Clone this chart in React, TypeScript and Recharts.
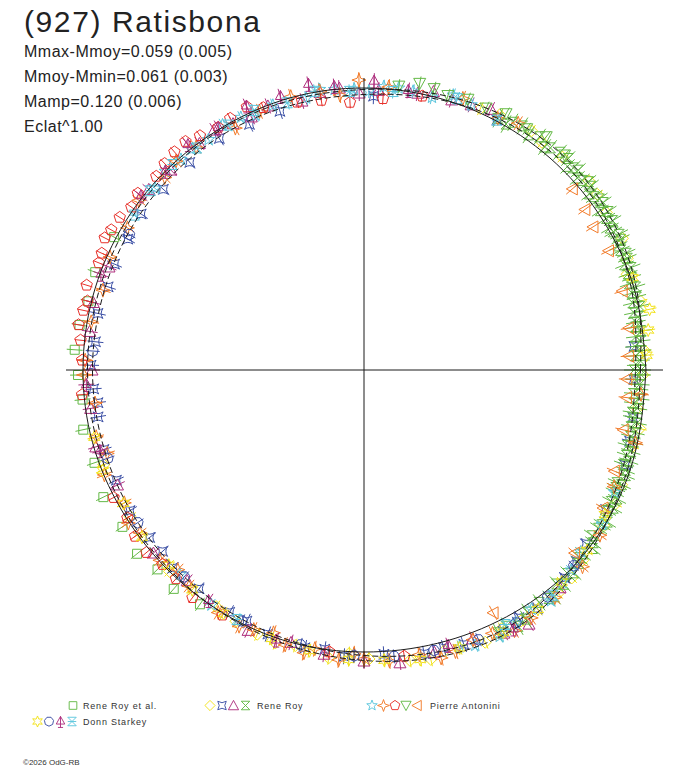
import React from 'react';
import { ScatterChart, Scatter, XAxis, YAxis } from 'recharts';

const W = 688;
const H = 768;

const GREEN = '#64b947';
const YELLOW = '#f2e21a';
const BLUE = '#3b4fa5';
const MAGENTA = '#ae2f7e';
const CYAN = '#5cc6dd';
const ORANGE = '#f27b2a';
const RED = '#e7312b';
const INK = '#1a1a1a';

// curves: radius (1 unit = 1 px) read every 15 deg of rotation phase
const curvePhase = [0, 15, 30, 45, 60, 75, 90, 105, 120, 135, 150, 165, 180, 195, 210, 225, 240, 255, 270, 285, 300, 315, 330, 345];
const meanRadius = [282, 282, 282, 282, 282, 282, 282, 282, 281, 281, 281, 281, 281, 281, 280, 280, 281, 282, 282, 283, 285, 287, 286, 283];
const fitOuter = [276.5, 283.5, 289.5, 292.5, 290.5, 285.5, 280.5, 279.5, 279.5, 278.5, 277.5, 276.5, 276.5, 276.5, 277.5, 278.5, 281.5, 285.5, 290.5, 296.5, 299.5, 293.5, 285.5, 279.5];
const fitInner = [271.5, 278.5, 284.5, 287.5, 285.5, 280.5, 275.5, 274.5, 274.5, 273.5, 272.5, 271.5, 271.5, 271.5, 272.5, 273.5, 276.5, 280.5, 285.5, 291.5, 294.5, 288.5, 280.5, 274.5];

// Rene Roy et al.
const royEtAlPhase = [152, 160, 166, 171, 176, 181, 186, 192, 199, 206, 213, 219, 224, 229, 235];
const royEtAlRadius = [283, 286, 284, 288, 290, 286, 283, 287, 285, 290, 288, 292, 287, 290, 286];

// Rene Roy
const royDiamondPhase = [8, 14, 20, 27, 33, 40, 47, 55, 62, 200, 212, 226, 238, 248, 256, 263, 271, 279, 286, 294, 302, 311, 319, 327, 336, 344, 352,
  359, 4, 23, 37, 52, 66, 243, 252, 267, 283, 298, 315, 332, 348];
const royDiamondRadius = [276, 285, 280, 290, 289, 294, 291, 292, 289, 277, 276, 280, 279, 285, 284, 290, 289, 294, 292, 298, 296, 296, 290, 286, 282, 279, 276,
  279, 281, 286, 292, 289, 286, 282, 287, 284, 297, 293, 294, 285, 282];
const royAstroidPhase = [122, 130, 138, 145, 151, 157, 162, 168, 174, 179, 184, 190, 197, 204, 211, 218, 226, 233, 241, 250, 258, 266, 274, 282, 290, 298, 306, 314, 322, 340, 350, 358, 5,
  62, 88, 108, 115, 187, 222, 245, 262, 286, 302, 318, 330, 345];
const royAstroidRadius = [273, 271, 270, 272, 270, 271, 269, 272, 270, 273, 271, 270, 272, 271, 273, 272, 275, 274, 277, 281, 284, 287, 285, 290, 292, 296, 295, 289, 282, 278, 273, 270, 271,
  283, 274, 272, 271, 268, 271, 277, 282, 289, 292, 286, 279, 275];
const royTrianglePhase = [64, 72, 79, 87, 95, 103, 110, 118, 126, 134, 158, 172, 188, 205, 221, 246, 262, 277, 292, 303, 312,
  68, 76, 91, 99, 114, 122, 140, 166, 180, 196, 230, 255, 270, 284, 298];
const royTriangleRadius = [290, 284, 282, 280, 283, 276, 281, 279, 280, 278, 275, 277, 276, 272, 279, 285, 287, 295, 290, 303, 293,
  286, 287, 277, 281, 277, 283, 281, 279, 272, 279, 275, 282, 291, 291, 298];
const royHourglassPhase = [-63, -59, -56, -51, -48, -47, -42, -40, -37, -36, -33, -30, -29, -26, -24, -24, -21, -18, -17, -14, -13, -10, -8, -7, -4, -2, -1, 1, 2, 5, 6, 9, 11, 12, 15, 16, 19, 20, 23, 25, 27, 29, 31, 32, 35, 37, 40, 41, 44, 46, 50, 53, 55, 59, 62,
  -61, -57, -53, -50, -45, -44, -41, -38, -34, -32, -28, -27, -25, -22, -20, -19, -16, -15, -12, -11, -9, -6, -5, -3, 0, 0, 3, 4, 7, 8, 10, 13, 14, 17, 18, 21, 22, 24, 26, 28, 30, 33, 34, 36, 38, 39, 42, 43, 45, 48, 51, 57, 60];
const royHourglassRadius = [295, 299, 292, 294, 288, 293, 289, 286, 287, 282, 284, 281, 285, 279, 282, 277, 280, 276, 279, 275, 278, 273, 276, 272, 275, 271, 277, 273, 276, 272, 278, 275, 279, 276, 282, 279, 283, 281, 286, 283, 288, 285, 290, 286, 292, 288, 293, 289, 291, 294, 290, 292, 287, 289, 285,
  293, 297, 291, 296, 288, 292, 286, 290, 283, 287, 280, 284, 278, 282, 276, 280, 274, 279, 273, 278, 272, 277, 271, 276, 270, 277, 272, 278, 274, 280, 276, 283, 277, 284, 279, 286, 281, 287, 283, 289, 284, 291, 285, 291, 286, 292, 287, 293, 288, 293, 287, 291, 284];

// Pierre Antonini
const antStarPhase = [68, 76, 83, 89, 96, 102, 109, 116, 124, 131, 139, 228, 237, 289, 297, 305, 313, 320, 327, 334,
  72, 80, 86, 92, 99, 113, 120, 128, 135, 292, 301, 309, 316];
const antStarRadius = [286, 281, 284, 279, 282, 278, 280, 281, 278, 279, 277, 275, 280, 293, 299, 292, 291, 283, 284, 279,
  289, 283, 284, 281, 284, 277, 283, 280, 281, 297, 295, 297, 288];
const antCrossPhase = [58, 85, 91, 99, 112, 127, 136, 143, 149, 156, 163, 170, 178, 187, 194, 202, 209, 216, 223, 231, 239, 247, 254, 260, 265, 270, 275, 281, 288, 296, 304, 318, 325,
  62, 70, 95, 105, 118, 132, 181, 198, 213, 227, 244, 251, 258, 268, 285, 292, 300, 310, 335, 345, 355];
const antCrossRadius = [291, 284, 290, 282, 279, 279, 277, 282, 276, 278, 273, 277, 279, 271, 276, 280, 274, 277, 279, 278, 283, 282, 286, 283, 291, 289, 292, 290, 296, 293, 299, 294, 288,
  285, 289, 276, 283, 274, 281, 280, 270, 281, 273, 285, 278, 289, 284, 298, 291, 301, 297, 276, 281, 278];
const antPentagonPhase = [78, 86, 93, 99, 104, 111, 118, 125, 131, 137, 142, 148, 153, 158, 163, 168, 174, 207, 216, 224, 233, 263, 278,
  114, 121, 128, 134, 145, 151, 156, 166, 171, 178, 185, 212, 220, 228, 240];
const antPentagonRadius = [280, 272, 268, 273, 276, 281, 285, 286, 289, 284, 287, 288, 291, 286, 290, 287, 285, 281, 283, 280, 285, 284, 289,
  288, 283, 290, 287, 284, 289, 287, 285, 289, 282, 283, 279, 284, 281, 283];
const antDownPhase = [47, 52, 56, 61, 65, 69, 73, 76, 79, 83];
const antDownRadius = [294, 296, 291, 293, 289, 290, 287, 290, 292, 286];
const antLeftPhase = [-62, -41, -30, -22, -13, -6, -2, 3, 9, 17, 26, 32, 36, 41];
const antLeftRadius = [275, 279, 276, 270, 266, 264, 263, 265, 268, 270, 272, 270, 273, 276];

// Donn Starkey
const starkeyStarPhase = [3, 8, 12, 19, 194, 201, 209, 217, 225, 232, 240, 251, 259, 267, 274, 281, 289, 298, 306, 313, 321, 329];
const starkeyStarRadius = [283, 287, 292, 284, 278, 280, 275, 278, 276, 279, 281, 284, 286, 290, 291, 295, 294, 297, 296, 290, 287, 281];
const starkeyShieldPhase = [150, 176, 199, 214, 229, 244, 257, 268, 276, 284, 293, 301, 309, 317];
const starkeyShieldRadius = [271, 272, 271, 273, 274, 279, 282, 286, 288, 289, 293, 295, 292, 287];
const starkeyTreePhase = [81, 88, 96, 101, 107, 114, 121, 128, 135, 142, 160, 183, 197, 236, 252, 287, 300];
const starkeyTreeRadius = [283, 289, 285, 291, 286, 289, 283, 286, 281, 283, 280, 278, 276, 278, 284, 288, 299];
const starkeyBarPhase = [62, 71, 84, 93, 100, 106, 113, 119, 127, 133, 140, 146, 243, 299, 310];
const starkeyBarRadius = [283, 287, 280, 279, 283, 278, 282, 280, 278, 281, 279, 277, 280, 291, 294];

const statLines = ['Mmax-Mmoy=0.059 (0.005)', 'Mmoy-Mmin=0.061 (0.003)', 'Mamp=0.120 (0.006)', 'Eclat^1.00'];

const regular = (n: number, r: number, rot = -90) => {
  let d = '';
  for (let i = 0; i < n; i++) {
    const a = ((rot + (360 * i) / n) * Math.PI) / 180;
    d += `${i ? 'L' : 'M'}${(r * Math.cos(a)).toFixed(2)},${(r * Math.sin(a)).toFixed(2)}`;
  }
  return d + 'Z';
};

const star = (n: number, ro: number, ri: number, rot = -90) => {
  let d = '';
  for (let i = 0; i < n * 2; i++) {
    const r = i % 2 ? ri : ro;
    const a = ((rot + (180 * i) / n) * Math.PI) / 180;
    d += `${i ? 'L' : 'M'}${(r * Math.cos(a)).toFixed(2)},${(r * Math.sin(a)).toFixed(2)}`;
  }
  return d + 'Z';
};

const MARKERS: Record<string, string> = {
  square: 'M-4.5,-4.5H4.5V4.5H-4.5Z',
  diamond: 'M0,-6L6,0L0,6L-6,0Z',
  astroid: 'M-5,-5Q0,-1.5 5,-5Q1.5,0 5,5Q0,1.5 -5,5Q-1.5,0 -5,-5Z',
  triUp: 'M0,-6L6,5L-6,5Z',
  hourglass: 'M-5,-5H5L-5,5H5Z',
  star5: star(5, 6.5, 2.7),
  star4: 'M0,-7L1.8,-1.8L7,0L1.8,1.8L0,7L-1.8,1.8L-7,0L-1.8,-1.8Z',
  pentagon: regular(5, 6),
  triDown: 'M0,6L6,-5L-6,-5Z',
  triLeft: 'M-6,0L5,-6L5,6Z',
  star6: star(6, 6.5, 3.2),
  shield: regular(7, 5.5, 90),
  tree: 'M0,-6L5,3H-5Z M0,-6V7 M-3,7H3',
  barglass: 'M-5,-5H5L-5,5H5Z M-5,0H5',
};

const sessions = [
  { marker: 'square', color: GREEN, err: 8, phase: royEtAlPhase, radius: royEtAlRadius },
  { marker: 'diamond', color: YELLOW, err: 7, phase: royDiamondPhase, radius: royDiamondRadius },
  { marker: 'astroid', color: BLUE, err: 8, phase: royAstroidPhase, radius: royAstroidRadius },
  { marker: 'triUp', color: MAGENTA, err: 8, phase: royTrianglePhase, radius: royTriangleRadius },
  { marker: 'hourglass', color: GREEN, err: 10, phase: royHourglassPhase, radius: royHourglassRadius },
  { marker: 'star5', color: CYAN, err: 7, phase: antStarPhase, radius: antStarRadius },
  { marker: 'star4', color: ORANGE, err: 8, phase: antCrossPhase, radius: antCrossRadius },
  { marker: 'pentagon', color: RED, err: 6, phase: antPentagonPhase, radius: antPentagonRadius },
  { marker: 'triDown', color: GREEN, err: 7, phase: antDownPhase, radius: antDownRadius },
  { marker: 'triLeft', color: ORANGE, err: 8, phase: antLeftPhase, radius: antLeftRadius },
  { marker: 'star6', color: YELLOW, err: 7, phase: starkeyStarPhase, radius: starkeyStarRadius },
  { marker: 'shield', color: BLUE, err: 7, phase: starkeyShieldPhase, radius: starkeyShieldRadius },
  { marker: 'tree', color: MAGENTA, err: 8, phase: starkeyTreePhase, radius: starkeyTreeRadius },
  { marker: 'barglass', color: CYAN, err: 7, phase: starkeyBarPhase, radius: starkeyBarRadius },
];

const legendRows = [
  { label: 'Rene Roy et al.', items: [0], iconX: [73], textX: 83, y: 705.5 },
  { label: 'Rene Roy', items: [1, 2, 3, 4], iconX: [210, 222, 233.5, 245.5], textX: 257, y: 705.5 },
  { label: 'Pierre Antonini', items: [5, 6, 7, 8, 9], iconX: [372, 383.5, 395, 406, 417], textX: 430, y: 705.5 },
  { label: 'Donn Starkey', items: [10, 11, 12, 13], iconX: [37.5, 49, 60.5, 72], textX: 83, y: 721.5 },
];

const toXY = (phase: number[], radius: number[]) =>
  phase.map((p, i) => {
    const a = (p * Math.PI) / 180;
    return { x: radius[i] * Math.cos(a), y: radius[i] * Math.sin(a), phase: p };
  });

const closedCurve = (radius: number[]) => {
  const pts = toXY(curvePhase, radius);
  return [...pts, pts[0]];
};

const hAxis = [{ x: -298, y: 0 }, { x: 299, y: 0 }];
const vAxis = [{ x: 0, y: -298 }, { x: 0, y: 292 }];

// one data unit is one pixel, so error bar half-lengths are in px
const makeShape = (marker: string, color: string, err: number) => (props: any) => {
  const { cx, cy, payload } = props;
  const a = (payload.phase * Math.PI) / 180;
  const ux = Math.cos(a);
  const uy = -Math.sin(a);
  return (
    <g>
      <line x1={cx - ux * err} y1={cy - uy * err} x2={cx + ux * err} y2={cy + uy * err} stroke={color} strokeWidth={1} />
      <path d={MARKERS[marker]} transform={`translate(${cx},${cy})`} fill="none" stroke={color} strokeWidth={1} />
    </g>
  );
};

const noDot = () => <g />;

export default function App() {
  const font = '"Liberation Sans", Arial, sans-serif';
  return (
    <div style={{ position: 'absolute', left: 0, top: 0, width: W, height: H, background: '#fff' }}>
      <ScatterChart width={W} height={H} margin={{ top: 70, right: 24, bottom: 98, left: 64 }}>
        <XAxis type="number" dataKey="x" domain={[-300, 300]} hide allowDataOverflow />
        <YAxis type="number" dataKey="y" domain={[-300, 300]} hide allowDataOverflow />
        {sessions.map((s, i) => (
          <Scatter
            key={i}
            data={toXY(s.phase, s.radius)}
            shape={makeShape(s.marker, s.color, s.err)}
            isAnimationActive={false}
          />
        ))}
        <Scatter data={hAxis} shape={noDot} line={{ stroke: INK, strokeWidth: 1 }} isAnimationActive={false} />
        <Scatter data={vAxis} shape={noDot} line={{ stroke: INK, strokeWidth: 1 }} isAnimationActive={false} />
        <Scatter
          data={closedCurve(meanRadius)}
          shape={noDot}
          line={{ stroke: INK, strokeWidth: 1 }}
          lineJointType="natural"
          isAnimationActive={false}
        />
        <Scatter
          data={closedCurve(fitOuter)}
          shape={noDot}
          line={{ stroke: INK, strokeWidth: 1, strokeDasharray: '6 3' }}
          lineJointType="natural"
          isAnimationActive={false}
        />
        <Scatter
          data={closedCurve(fitInner)}
          shape={noDot}
          line={{ stroke: INK, strokeWidth: 1, strokeDasharray: '6 3' }}
          lineJointType="natural"
          isAnimationActive={false}
        />
      </ScatterChart>
      <svg width={W} height={H} style={{ position: 'absolute', left: 0, top: 0, pointerEvents: 'none' }}>
        <text x={24} y={32} fontSize={30} letterSpacing={1.6} fill="#222" fontFamily={font}>
          (927) Ratisbona
        </text>
        {statLines.map((t, i) => (
          <text key={t} x={24} y={57 + i * 25} fontSize={16} letterSpacing={0.5} fill="#222" fontFamily={font}>
            {t}
          </text>
        ))}
        {legendRows.map((row) => (
          <g key={row.label}>
            {row.items.map((k, j) => (
              <path
                key={k}
                d={MARKERS[sessions[k].marker]}
                transform={`translate(${row.iconX[j]},${row.y}) scale(0.85)`}
                fill="none"
                stroke={sessions[k].color}
                strokeWidth={1.1}
              />
            ))}
            <text x={row.textX} y={row.y + 3.5} fontSize={9} letterSpacing={0.8} fill="#333" fontFamily={font}>
              {row.label}
            </text>
          </g>
        ))}
        <text x={23} y={765} fontSize={8} fill="#333" fontFamily={font}>
          ©2026 OdG-RB
        </text>
      </svg>
    </div>
  );
}
